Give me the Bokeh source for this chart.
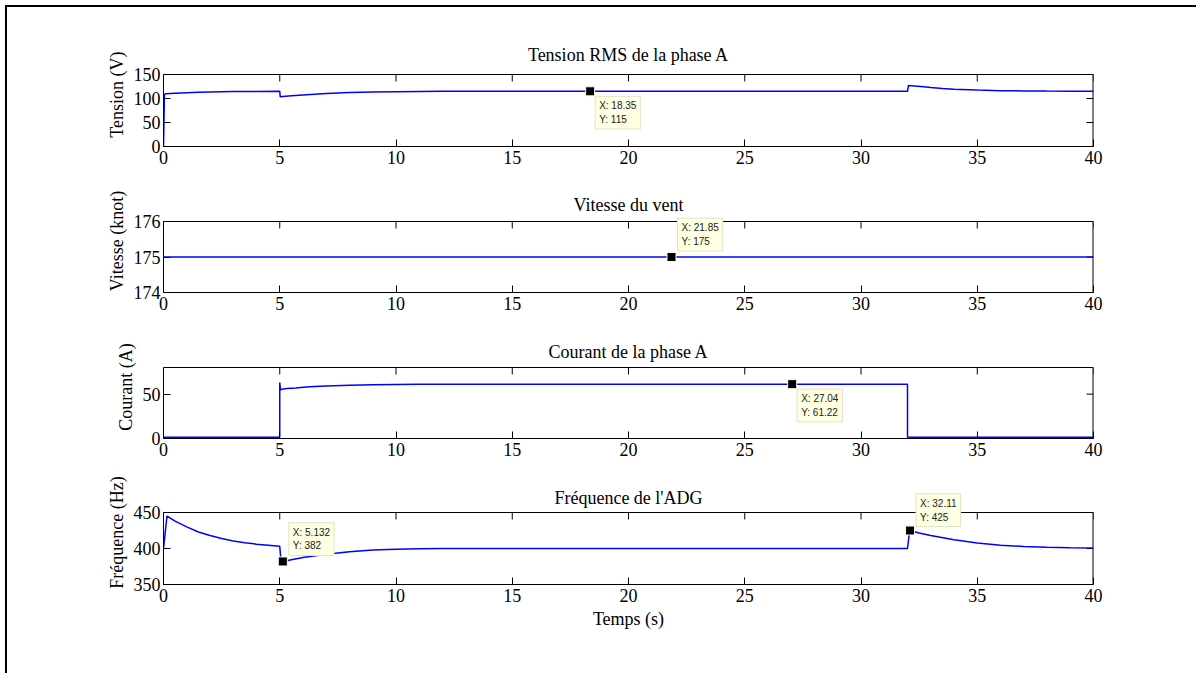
import math
from bokeh.plotting import figure
from bokeh.models import FixedTicker, Range1d, Label, Span
from bokeh.layouts import column
from bokeh.embed import file_html
from bokeh.resources import INLINE

# ---------------- data ----------------
x_lim = (0, 40)
x_ticks = [0, 5, 10, 15, 20, 25, 30, 35, 40]

titles = ["Tension RMS de la phase A", "Vitesse du vent", "Courant de la phase A", "Fréquence de l'ADG"]
ylabels = ["Tension (V)", "Vitesse (knot)", "Courant (A)", "Fréquence (Hz)"]
xlabel = "Temps (s)"

y_limits = [(0, 150), (174, 176), (0, 80), (350, 450)]
y_ticks = [[0, 50, 100, 150], [174, 175, 176], [0, 50], [350, 400, 450]]

t_tension = [0, 0.04, 0.1, 0.5, 1, 1.5, 2, 2.5, 3, 4, 5,
             5.02, 5.5, 6, 7, 8, 9, 10, 11, 12,
             32, 32.04, 32.3, 32.7, 33, 33.5, 34, 35, 36, 37, 38, 39, 40]
tension = [0, 108, 110, 111, 112, 112.8, 113.5, 114, 114.4, 114.8, 115,
           103.5, 105.5, 107.5, 110.5, 112.5, 113.6, 114.3, 114.7, 115,
           115, 127, 126, 124.5, 123, 121, 119.5, 117.5, 116.4, 115.8, 115.4, 115.2, 115]

t_vitesse = [0, 40]
vitesse = [175, 175]

t_courant = [0, 5, 5, 5.03, 5.1, 5.3, 5.7, 6, 6.5, 7, 8, 9, 10, 11, 12, 14, 32, 32, 40]
courant = [1.5, 1.5, 63, 55, 55.5, 56.3, 57, 57.8, 58.5, 59.2, 60.1, 60.6, 60.9, 61.1,
           61.2, 61.22, 61.22, 1.5, 1.5]

t_freq = [0, 0.15, 0.5, 1, 1.5, 2, 2.5, 3, 3.5, 4, 4.5, 5,
          5.05, 5.132, 5.5, 6, 7, 8, 9, 10, 11, 12,
          32, 32.06, 32.11, 32.5, 33, 34, 35, 36, 37, 38, 39, 40]
freq = [400, 445, 438, 430, 423, 418, 414, 410.5, 408, 406, 404.5, 403,
        384, 382, 384.5, 387.5, 392, 395.5, 397.8, 399, 399.6, 400,
        400, 416, 425, 421.5, 418, 412, 407.5, 404.5, 402.8, 401.8, 401.2, 400.8]

series_t = [t_tension, t_vitesse, t_courant, t_freq]
series_v = [tension, vitesse, courant, freq]

# data tips: x, y, text shown
tip_x = [[18.35], [21.85], [27.04], [5.132, 32.11]]
tip_y = [[115], [175], [61.22], [382, 425]]
tip_txt = [["X: 18.35\nY: 115"], ["X: 21.85\nY: 175"], ["X: 27.04\nY: 61.22"],
           ["X: 5.132\nY: 382", "X: 32.11\nY: 425"]]

# ---------------- layout / style ----------------
SERIF = "Liberation Serif"
SANS = "Liberation Sans"
FS = "18px"

W = 1189
EXT = 32                       # extra frame space above each axes box (holds title and tips)
fig_h = [173, 147, 146, 200]
b_top = [35, 9, 8, 7]
b_bot = [34, 35, 35, 89]
title_off = [20, 17, 16, 15]
# tip box placement (anchor, dx, dy) -- style only
tip_place = [[("top_left", 5, -5)], [("bottom_left", 6, 6)], [("top_left", 5, -5)],
             [("bottom_left", 6, 6), ("bottom_left", 6, 4)]]

figs = []
for i in range(4):
    ylo, yhi = y_limits[i]
    frame_h = fig_h[i] - b_top[i] - b_bot[i]
    box_h = frame_h - EXT
    y_top = yhi + (yhi - ylo) * EXT / box_h

    p = figure(width=W, height=fig_h[i], output_backend="svg", toolbar_location=None,
               x_range=Range1d(*x_lim), y_range=Range1d(ylo, y_top),
               min_border_left=156, min_border_right=W - 156 - 930,
               min_border_top=b_top[i], min_border_bottom=b_bot[i])
    p.title.visible = False
    p.background_fill_color = "white"
    p.border_fill_color = "white"
    p.outline_line_color = None
    p.grid.visible = False

    for ax in (p.xaxis[0], p.yaxis[0]):
        ax.major_tick_in = 7
        ax.major_tick_out = 0
        ax.minor_tick_in = 0
        ax.minor_tick_out = 0
        ax.axis_line_color = "black"
        ax.major_tick_line_color = "black"
        ax.major_label_text_font = SERIF
        ax.major_label_text_font_size = FS
        ax.major_label_text_color = "black"
        ax.axis_label_text_font = SERIF
        ax.axis_label_text_font_size = FS
        ax.axis_label_text_font_style = "normal"
        ax.axis_label_text_color = "black"
    p.xaxis[0].ticker = FixedTicker(ticks=x_ticks)
    p.xaxis[0].major_label_standoff = 4
    p.yaxis[0].ticker = FixedTicker(ticks=y_ticks[i])
    p.yaxis[0].bounds = (ylo, yhi)
    p.yaxis[0].axis_label = ylabels[i]
    p.yaxis[0].axis_label_standoff = 4
    p.yaxis[0].major_label_standoff = 3
    if i == 3:
        p.xaxis[0].axis_label = xlabel
        p.xaxis[0].axis_label_standoff = 4

    # axes box: top and right edges
    p.add_layout(Span(location=yhi, dimension="width", line_color="black", line_width=1))
    p.segment(x0=[x_lim[1]], y0=[ylo], x1=[x_lim[1]], y1=[yhi], line_color="black", line_width=2)

    # mirrored inward ticks on top and right edges
    p.ray(x=x_ticks, y=[yhi] * len(x_ticks), length=7, length_units="screen",
          angle=-math.pi / 2, line_color="black", line_width=1)
    p.ray(x=[x_lim[1]] * len(y_ticks[i]), y=y_ticks[i], length=7, length_units="screen",
          angle=math.pi, line_color="black", line_width=1)

    # title
    p.add_layout(Label(x=(x_lim[0] + x_lim[1]) / 2, y=yhi, y_offset=title_off[i], text=titles[i],
                       text_align="center", text_baseline="middle",
                       text_font=SERIF, text_font_size=FS, text_color="black"))

    p.line(series_t[i], series_v[i], line_color="#0000ff", line_width=1.5)

    p.scatter(tip_x[i], tip_y[i], marker="square", size=9, fill_color="black",
              line_color="#fbfbe6", line_width=1)
    for j in range(len(tip_x[i])):
        anc, dx, dy = tip_place[i][j]
        p.add_layout(Label(x=tip_x[i][j], y=tip_y[i][j], text=tip_txt[i][j],
                           x_offset=dx, y_offset=dy, anchor=anc, level="overlay",
                           text_font=SANS, text_font_size="10px", text_color="#222222",
                           text_line_height=1.25,
                           background_fill_color="#ffffe1", border_line_color="#e2e2cc",
                           border_line_width=1, padding=4))
    figs.append(p)

layout = column(*figs, spacing=0,
                styles={"border-left": "2px solid black", "border-top": "2px solid black",
                        "margin-left": "5px", "margin-top": "5px"})

open("out.html", "w").write(file_html(layout, INLINE))
